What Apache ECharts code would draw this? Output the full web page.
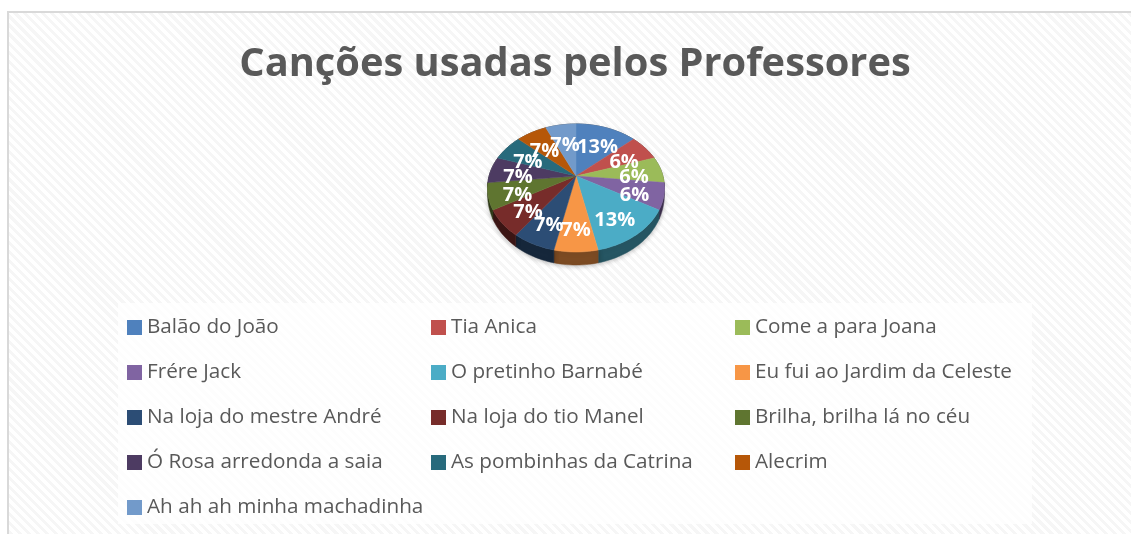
<!DOCTYPE html>
<html><head><meta charset="utf-8">
<script src="https://cdn.jsdelivr.net/npm/echarts@6/dist/echarts.min.js"></script>
<style>
html,body{margin:0;padding:0;background:#fff;width:1131px;height:534px;overflow:hidden}
#frame{position:absolute;left:7px;top:11px;width:1124px;height:523px;box-sizing:border-box;border-left:2px solid #d9d9d9;border-top:2px solid #d9d9d9;
background:repeating-linear-gradient(45deg,#f6f6f6 0,#f6f6f6 3px,#fff 3px,#fff 6.4px)}
#c{position:absolute;left:0;top:0;width:1131px;height:534px}
</style></head><body><div id="frame"></div><div id="c"></div>
<script>
const titleText = 'Canções usadas pelos Professores';
const categories = ['Balão do João','Tia Anica','Come a para Joana','Frére Jack','O pretinho Barnabé','Eu fui ao Jardim da Celeste','Na loja do mestre André','Na loja do tio Manel','Brilha, brilha lá no céu','Ó Rosa arredonda a saia','As pombinhas da Catrina','Alecrim','Ah ah ah minha machadinha'];
const values = [2,1,1,1,2,1,1,1,1,1,1,1,1];
const percentLabels = ['13%','6%','6%','6%','13%','7%','7%','7%','7%','7%','7%','7%','7%'];
const colors = ['#4F81BD','#C0504D','#9BBB59','#8064A2','#4BACC6','#F79646','#2C4D75','#772C2A','#5F7530','#4D3B62','#276A7C','#B65708','#729ACA'];

const total = values.reduce((a,b)=>a+b,0);
const PIE = {cx:576, cy:176, a:86.9, b:61.75, k:0.1875, depth:13};
function project(theta, r){
  const u = r*Math.sin(theta), v = -r*Math.cos(theta), d = 1-PIE.k*v;
  return [PIE.cx+PIE.a*u/d, PIE.cy+PIE.b*v/d];
}
function shade(hex,f){
  const n=parseInt(hex.slice(1),16);
  return 'rgb('+[(n>>16)&255,(n>>8)&255,n&255].map(c=>Math.round(c*f)).join(',')+')';
}
function sliceRender(idx){
  return function(){
    const before = values.slice(0,idx).reduce((a,b)=>a+b,0);
    const t0 = before/total*2*Math.PI, t1 = (before+values[idx])/total*2*Math.PI;
    const n = Math.max(6,Math.ceil((t1-t0)/0.03));
    const arc = [], low = [];
    for(let i=0;i<=n;i++){
      const th = t0+(t1-t0)*i/n, p = project(th,1);
      arc.push(p);
      low.push([p[0],p[1]+PIE.depth*Math.sqrt(Math.max(0,-Math.cos(th)))]);
    }
    const wall = arc.concat(low.reverse());
    const mid = project((t0+t1)/2,0.68);
    return {type:'group',children:[
      {type:'polygon',z2:1,shape:{points:wall},style:{fill:shade(colors[idx],0.5),stroke:shade(colors[idx],0.5),lineWidth:0.5,shadowBlur:5,shadowColor:'rgba(0,0,0,0.28)',shadowOffsetY:1}},
      {type:'polygon',z2:10,shape:{points:[[PIE.cx,PIE.cy]].concat(arc)},style:{fill:colors[idx],stroke:colors[idx],lineWidth:0.5}},
      {type:'text',z2:20,style:{x:mid[0],y:mid[1]+6,text:percentLabels[idx],align:'center',verticalAlign:'middle',fill:'#fff',font:'bold 20px "Open Sans"'}}
    ]};
  };
}
const series = categories.map((name,i)=>({
  type:'custom',name,coordinateSystem:'none',silent:true,animation:false,
  itemStyle:{color:colors[i]},data:[values[i]],renderItem:sliceRender(i)
}));
function legendCol(left,start){
  return {orient:'vertical',left,top:313,height:215,padding:0,itemGap:16,itemWidth:15,itemHeight:15,icon:'rect',selectedMode:false,
    data:categories.filter((_,i)=>i%3===start),
    textStyle:{color:'#595959',fontFamily:'Open Sans',fontSize:20.7,lineHeight:29}};
}
const chart = echarts.init(document.getElementById('c'),null,{renderer:'canvas'});
chart.setOption({
  animation:false,backgroundColor:'transparent',
  title:{text:titleText,left:570,top:36,textAlign:'center',textStyle:{color:'#595959',fontFamily:'Open Sans',fontWeight:'bold',fontSize:39.8,lineHeight:48}},
  graphic:[{type:'rect',z:-1,shape:{x:118,y:303,width:914,height:221},style:{fill:'rgba(255,255,255,0.8)'},silent:true}],
  legend:[legendCol(127,0),legendCol(431,1),legendCol(735,2)],
  series
});
</script></body></html>
